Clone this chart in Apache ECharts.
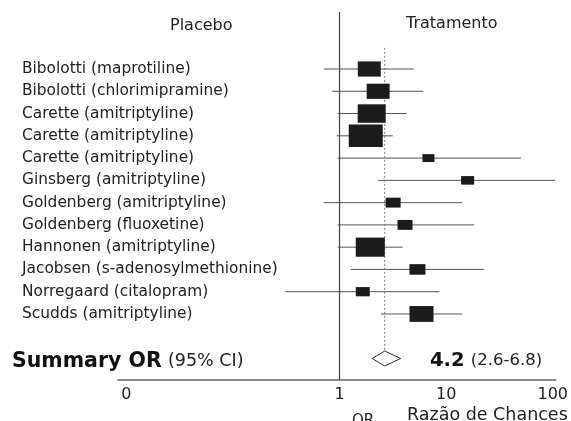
<!DOCTYPE html>
<html><head><meta charset="utf-8">
<script src="https://cdn.jsdelivr.net/npm/echarts@6/dist/echarts.min.js"></script>
<style>html,body{margin:0;padding:0;background:#fff}#c{width:571px;height:421px}</style>
</head><body><div id="c"></div>
<script>
const studies = [
  'Bibolotti (maprotiline)',
  'Bibolotti (chlorimipramine)',
  'Carette (amitriptyline)',
  'Carette (amitriptyline)',
  'Carette (amitriptyline)',
  'Ginsberg (amitriptyline)',
  'Goldenberg (amitriptyline)',
  'Goldenberg (fluoxetine)',
  'Hannonen (amitriptyline)',
  'Jacobsen (s-adenosylmethionine)',
  'Norregaard (citalopram)',
  'Scudds (amitriptyline)'
];
const orValues = [1.90, 2.30, 2.00, 1.76, 6.82, 15.9, 3.18, 4.11, 1.94, 5.38, 1.65, 5.87];
const ciLow    = [0.71, 0.85, 0.96, 0.94, 0.96, 2.28, 0.71, 0.96, 0.96, 1.27, 0.31, 2.43];
const ciHigh   = [4.94, 6.12, 4.25, 3.15, 50.3, 105, 14.2, 18.3, 3.90, 22.7, 8.64, 14.2];
const weights  = [23, 23, 28, 34, 12, 13, 15, 15, 29, 16, 14, 24];
const summaryOR = 2.65, summaryLow = 2.02, summaryHigh = 3.74;
const summaryRow = 13;
const summaryLabel = 'Summary OR';
const summaryCI = '(95% CI)';
const summaryValueText = '4.2';
const summaryRangeText = '(2.6-6.8)';
const tickValues = [0.01, 1, 10, 100];
const tickLabels = ['0', '1', '10', '100'];
const leftHeader = 'Placebo', rightHeader = 'Tratamento';
const xTitle1 = 'OR', xTitle2 = 'Razão de Chances';

const FONT = 'DejaVu Sans, Liberation Sans, Arial, sans-serif';
const chart = echarts.init(document.getElementById('c'), null, {renderer: 'canvas'});

const option = {
  backgroundColor: '#fff',
  animation: false,
  textStyle: {fontFamily: FONT},
  title: [
    {text: leftHeader, left: 165, top: 13, textStyle: {fontSize: 16, fontWeight: 'normal', color: '#222', fontFamily: FONT}},
    {text: rightHeader, left: 401, top: 11, textStyle: {fontSize: 16, fontWeight: 'normal', color: '#222', fontFamily: FONT}},
    {text: '{b|' + summaryLabel + '} {n|' + summaryCI + '}', left: 7, top: 346,
      textStyle: {rich: {
        b: {fontSize: 20.5, fontWeight: 'bold', color: '#111', fontFamily: FONT},
        n: {fontSize: 17.5, fontWeight: 'normal', color: '#222', fontFamily: FONT}}}},
    {text: '{b|' + summaryValueText + '} {n|' + summaryRangeText + '}', left: 425, top: 346,
      textStyle: {rich: {
        b: {fontSize: 19.5, fontWeight: 'bold', color: '#111', fontFamily: FONT},
        n: {fontSize: 16.5, fontWeight: 'normal', color: '#222', fontFamily: FONT}}}},
    {text: xTitle1, left: 347, top: 409, textStyle: {fontSize: 15, fontWeight: 'normal', color: '#222', fontFamily: FONT}},
    {text: xTitle2, left: 402, top: 401, textStyle: {fontSize: 17.5, fontWeight: 'normal', color: '#222', fontFamily: FONT}}
  ],
  grid: {left: 118, right: 13, top: 12, bottom: 41, containLabel: false},
  xAxis: {
    type: 'log', logBase: 10, min: 0.00833, max: 107,
    axisLine: {show: true, onZero: false, lineStyle: {color: '#666', width: 1.5}},
    axisTick: {show: false},
    splitLine: {show: false},
    axisLabel: {
      fontSize: 16, color: '#222', fontFamily: FONT, margin: 7,
      formatter: function (v) {
        for (let k = 0; k < tickValues.length; k++) {
          if (Math.abs(Math.log10(v) - Math.log10(tickValues[k])) < 1e-6) return tickLabels[k];
        }
        return '';
      }
    }
  },
  yAxis: {
    type: 'value', inverse: true, min: -2.56, max: 13.965,
    axisLine: {show: false}, axisTick: {show: false}, splitLine: {show: false},
    axisLabel: {
      customValues: studies.map((s, i) => i),
      formatter: function (v) { return studies[Math.round(v)] || ''; },
      align: 'left', margin: 96, fontSize: 15.4, color: '#222', fontFamily: FONT
    }
  },
  series: [
    {
      type: 'custom',
      name: 'ci',
      renderItem: function (params, api) {
        const row = api.value(0);
        const lo = api.coord([api.value(1), row]);
        const hi = api.coord([api.value(2), row]);
        return {type: 'line', shape: {x1: lo[0], y1: lo[1], x2: hi[0], y2: hi[1]},
          style: {stroke: '#555', lineWidth: 1}};
      },
      encode: {x: [1, 2], y: 0},
      data: studies.map((s, i) => [i, ciLow[i], ciHigh[i]]),
      z: 2,
      markLine: {
        silent: true, symbol: ['none', 'none'], label: {show: false},
        lineStyle: {color: '#444', width: 1.2, type: 'solid'},
        data: [{xAxis: 1}]
      }
    },
    {
      type: 'scatter',
      name: 'or',
      symbol: 'rect',
      symbolSize: function (v) { return [v[2], v[2] * 0.66]; },
      itemStyle: {color: '#1b1b1b', opacity: 1},
      data: studies.map((s, i) => [orValues[i], i, weights[i]]),
      z: 4
    },
    {
      type: 'custom',
      name: 'summary',
      renderItem: function (params, api) {
        const row = api.value(3);
        const c = api.coord([api.value(0), row]);
        const l = api.coord([api.value(1), row]);
        const h = api.coord([api.value(2), row]);
        const top = api.coord([api.value(0), -0.95]);
        const hh = 7.5;
        return {type: 'group', children: [
          {type: 'line', shape: {x1: c[0], y1: top[1], x2: c[0], y2: c[1] - hh},
            style: {stroke: '#777', lineWidth: 1, lineDash: [2, 2]}},
          {type: 'polygon', shape: {points: [[l[0], c[1]], [c[0], c[1] - hh], [h[0], c[1]], [c[0], c[1] + hh]]},
            style: {fill: '#fff', stroke: '#333', lineWidth: 1}}
        ]};
      },
      encode: {x: [0, 1, 2], y: 3},
      data: [[summaryOR, summaryLow, summaryHigh, summaryRow]],
      z: 3
    }
  ]
};
chart.setOption(option);
</script>
</body></html>
